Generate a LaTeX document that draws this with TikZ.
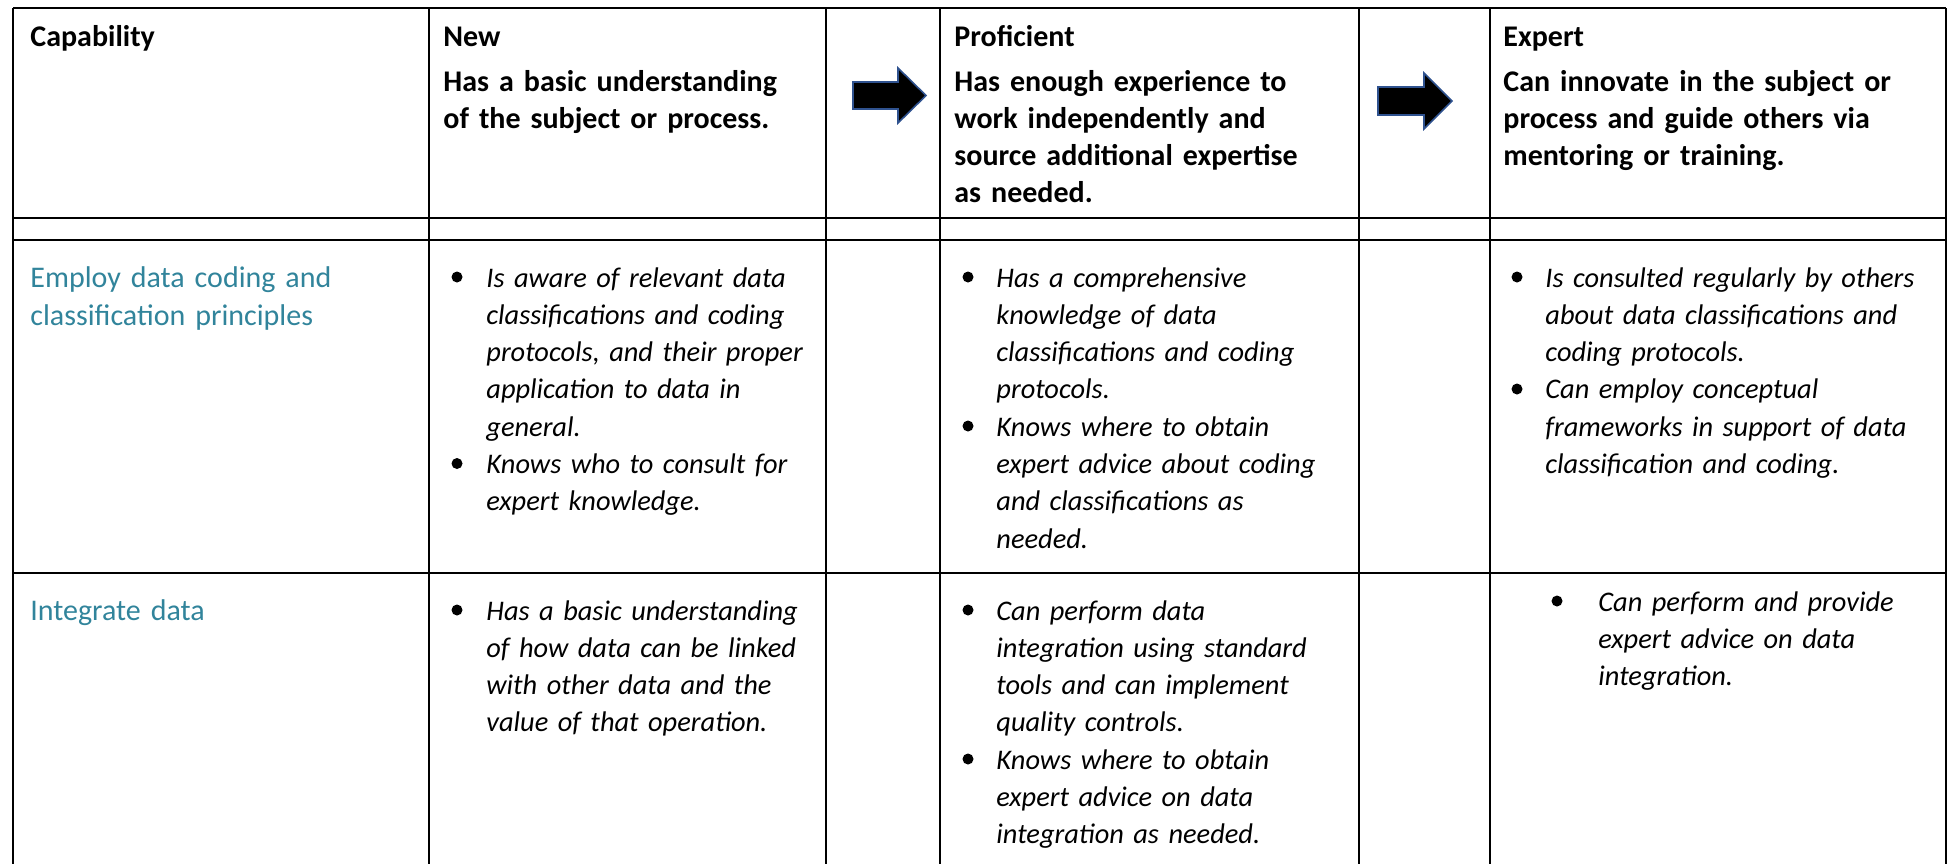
\documentclass[tikz,border=0pt]{standalone}
\usepackage{fontspec}
\setmainfont{Carlito}
\usetikzlibrary{positioning}

\definecolor{capteal}{RGB}{49,132,155}
\definecolor{arrowblue}{RGB}{47,82,143}

\tikzset{
    every picture/.style={x=0.5pt, y=-0.5pt},
    hline/.style={black, line width=1.2pt},
    vline/.style={black, line width=0.6pt},
    headtext/.style={anchor=base west, inner sep=0pt, text width=200pt, align=left,
        font=\fontsize{15}{18.65}\selectfont\bfseries},
    captext/.style={anchor=base west, inner sep=0pt, text width=200pt, align=left,
        text=capteal, font=\fontsize{15}{19.2}\selectfont},
    itemtext/.style={anchor=base west, inner sep=0pt, text width=200pt, align=left,
        font=\fontsize{14.2}{18.65}\selectfont\itshape},
    levelarrow/.style={fill=black, draw=arrowblue, line width=0.8pt, line join=miter}
}

\begin{document}
\begin{tikzpicture}

    % Fix the picture size (pixels of the reference)
    \useasboundingbox (0,0) rectangle (1948,864);

    % Column and row edges
    \def\xa{13} \def\xb{429} \def\xc{826} \def\xd{940}
    \def\xe{1359} \def\xf{1490} \def\xg{1946}
    \def\ya{8} \def\yb{218} \def\yc{240} \def\yd{573} \def\ye{864}
    \def\lh{37.3}

    % Draw the table rules
    \foreach \y in {\ya,\yb,\yc,\yd} {
        \draw[hline] (\xa,\y) -- (\xg,\y);
    }
    \foreach \x in {\xa,\xb,\xc,\xd,\xe,\xf,\xg} {
        \draw[vline] (\x,\ya) -- (\x,\ye);
    }

    % Header row
    \node[headtext] (caphead) at (30,46) {Capability};
    \node[headtext] (newhead) at (443,46) {New};
    \node[headtext] (newdesc) at (443,91) {Has a basic understanding\\of the subject or process.};
    \node[headtext] (profhead) at (954,46) {Proficient};
    \node[headtext] (profdesc) at (954,91) {Has enough experience to\\work independently and\\source additional expertise\\as needed.};
    \node[headtext] (exphead) at (1503,46) {Expert};
    \node[headtext] (expdesc) at (1503,91) {Can innovate in the subject or\\process and guide others via\\mentoring or training.};

    % Arrows between the levels
    \draw[levelarrow] (853,82) -- (898,82) -- (898,68) -- (926,95.5) -- (898,123) -- (898,109) -- (853,109) -- cycle;
    \draw[levelarrow] (1378,87) -- (1424,87) -- (1424,73) -- (1452,101) -- (1424,129) -- (1424,115) -- (1378,115) -- cycle;

    % Row 1: data coding and classification
    \node[captext] (capone) at (30,287) {Employ data coding and\\classification principles};
    \node[itemtext] (newoneA) at (486,287) {Is aware of relevant data\\classifications and coding\\protocols, and their proper\\application to data in\\general.};
    \node[itemtext] (newoneB) at (486,287+5*\lh) {Knows who to consult for\\expert knowledge.};
    \node[itemtext] (profoneA) at (996,287) {Has a comprehensive\\knowledge of data\\classifications and coding\\protocols.};
    \node[itemtext] (profoneB) at (996,287+4*\lh) {Knows where to obtain\\expert advice about coding\\and classifications as\\needed.};
    \node[itemtext] (exponeA) at (1545,287) {Is consulted regularly by others\\about data classifications and\\coding protocols.};
    \node[itemtext] (exponeB) at (1545,287+3*\lh) {Can employ conceptual\\frameworks in support of data\\classification and coding.};

    % Row 2: integration
    \node[captext] (captwo) at (30,620) {Integrate data};
    \node[itemtext] (newtwoA) at (486,620) {Has a basic understanding\\of how data can be linked\\with other data and the\\value of that operation.};
    \node[itemtext] (proftwoA) at (996,620) {Can perform data\\integration using standard\\tools and can implement\\quality controls.};
    \node[itemtext] (proftwoB) at (996,620+4*\lh) {Knows where to obtain\\expert advice on data\\integration as needed.};
    \node[itemtext] (exptwoA) at (1598,611) {Can perform and provide\\expert advice on data\\integration.};

    % Bullets in front of each item
    \foreach \bx/\by in {457/287, 457/473.5, 968/287, 968/436, 1517/287, 1517/399,
                         457/620, 968/620, 968/769, 1557/611} {
        \fill (\bx,\by-10) circle (5.5);
    }

\end{tikzpicture}
\end{document}
